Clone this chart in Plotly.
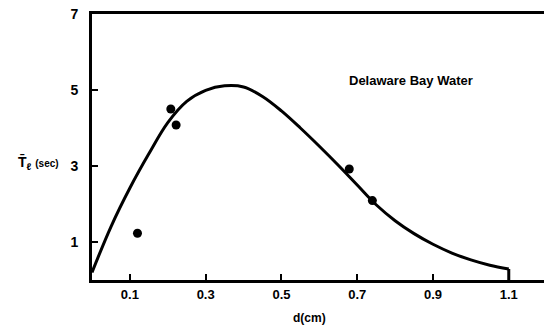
import plotly.graph_objects as go

# fitted curve
curve_x = [0.0, 0.05, 0.10, 0.15, 0.20, 0.25, 0.30, 0.35, 0.40, 0.45, 0.50, 0.55, 0.60, 0.65, 0.70, 0.75, 0.80, 0.85, 0.90, 0.95, 1.00, 1.05, 1.10]
curve_y = [0.2, 1.40, 2.42, 3.32, 4.14, 4.70, 4.99, 5.11, 5.08, 4.83, 4.45, 4.00, 3.52, 3.02, 2.50, 1.98, 1.56, 1.22, 0.94, 0.71, 0.53, 0.39, 0.29]

# measured points
pts_x = [0.120, 0.208, 0.222, 0.679, 0.740]
pts_y = [1.23, 4.50, 4.08, 2.92, 2.09]

x_ticks = [0.1, 0.3, 0.5, 0.7, 0.9, 1.1]
x_ticklabels = ["0.1", "0.3", "0.5", "0.7", "0.9", "1.1"]
y_ticks = [1, 3, 5, 7]
y_ticklabels = ["1", "3", "5", "7"]

FONT = "Liberation Sans"

fig = go.Figure()
fig.add_trace(go.Scatter(x=curve_x, y=curve_y, mode="lines",
                         line=dict(color="black", width=3, shape="spline", smoothing=1.0),
                         showlegend=False, hoverinfo="skip"))
fig.add_trace(go.Scatter(x=[curve_x[-1], curve_x[-1]], y=[curve_y[-1], 0], mode="lines",
                         line=dict(color="black", width=3),
                         showlegend=False, hoverinfo="skip"))
fig.add_trace(go.Scatter(x=pts_x, y=pts_y, mode="markers",
                         marker=dict(color="black", size=9),
                         showlegend=False))

fig.update_layout(
    width=544, height=325,
    margin=dict(l=92, r=0, t=14, b=45),
    paper_bgcolor="white", plot_bgcolor="white",
    font=dict(family=FONT, color="black"),
    xaxis=dict(range=[0, 1.193], tickvals=x_ticks, ticktext=x_ticklabels,
               showgrid=False, zeroline=False, showline=True, linecolor="black", linewidth=3,
               mirror=True, ticks="inside", ticklen=6, tickwidth=2, tickcolor="black",
               tickfont=dict(family=FONT, size=13, weight="bold")),
    yaxis=dict(range=[0, 7], tickvals=y_ticks, ticktext=y_ticklabels,
               showgrid=False, zeroline=False, showline=True, linecolor="black", linewidth=3,
               mirror=False, ticks="inside", ticklen=6, tickwidth=2, tickcolor="black",
               tickfont=dict(family=FONT, size=14, weight="bold"), ticklabelstandoff=8),
    annotations=[
        dict(text="<b>Delaware Bay Water</b>", x=0.842, y=5.26, xref="x", yref="y",
             showarrow=False, font=dict(family=FONT, size=13, color="black")),
        dict(text="<b>d(cm)</b>", x=(309 - 92) / 452, y=-(318 - 280) / 266, yanchor="middle",
             xref="paper", yref="paper", showarrow=False,
             font=dict(family=FONT, size=12, color="black")),
        dict(text="<b>T\u0304<sub>\u2113</sub></b> <b><span style='font-size:10px'>(sec)</span></b>",
             x=(16 - 92) / 452, y=3.1, xref="paper", yref="y", showarrow=False, xanchor="left",
             font=dict(family=FONT, size=14, color="black")),
    ],
)

fig.write_html("out.html")
